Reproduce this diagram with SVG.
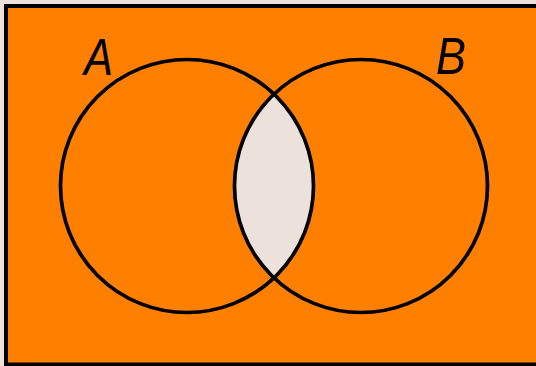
<svg xmlns="http://www.w3.org/2000/svg" width="536" height="366" viewBox="0 0 536 366">
<style>
.bg{fill:#ece2db}
.uni{fill:#ff8000;stroke:#000;stroke-width:4}
.lens{fill:#ece2db}
.set{fill:none;stroke:#000;stroke-width:3.7}
.lbl{font-family:"Liberation Sans","DejaVu Sans",sans-serif;font-style:italic;font-size:52px;fill:#000}
</style>
<defs>
<clipPath id="clipA"><circle cx="187" cy="186" r="126.5"/></clipPath>
</defs>
<rect class="bg" x="0" y="0" width="536" height="366"/>
<g id="universe">
<rect class="uni" x="6" y="6" width="540" height="358.5"/>
</g>
<g id="intersection">
<circle class="lens" cx="361" cy="186" r="126.5" clip-path="url(#clipA)"/>
</g>
<g id="setA">
<circle class="set" cx="187" cy="186" r="126.5"/>
<text class="lbl" x="84" y="75" textLength="29" lengthAdjust="spacingAndGlyphs">A</text>
</g>
<g id="setB">
<circle class="set" cx="361" cy="186" r="126.5"/>
<text class="lbl" x="436" y="74" textLength="30" lengthAdjust="spacingAndGlyphs">B</text>
</g>
<g id="connectors"/>
</svg>
